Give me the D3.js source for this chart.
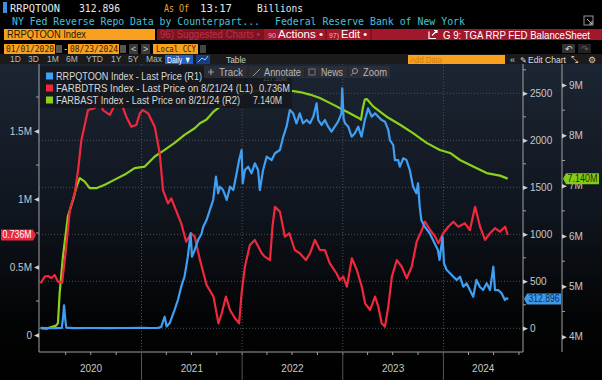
<!DOCTYPE html>
<html><head><meta charset="utf-8">
<script src="https://cdn.jsdelivr.net/npm/d3@7"></script>
<style>html,body{margin:0;padding:0;background:#000;overflow:hidden}</style>
</head><body><svg id="c" width="602" height="380"></svg>
<script>
// ---------- DATA ----------
const rrpDates = ["2020-01-01","2020-01-20","2020-02-10","2020-03-01","2020-03-18","2020-03-23","2020-03-26","2020-03-30","2020-04-03","2020-05-01","2020-07-01","2020-09-01","2020-11-01","2021-01-04","2021-02-01","2021-03-01","2021-03-13","2021-03-26","2021-04-02","2021-04-14","2021-05-01","2021-05-13","2021-05-25","2021-06-06","2021-06-18","2021-06-28","2021-07-03","2021-07-13","2021-07-25","2021-08-06","2021-08-13","2021-08-25","2021-09-06","2021-09-18","2021-09-28","2021-10-06","2021-10-12","2021-10-24","2021-11-06","2021-11-18","2021-11-30","2021-12-12","2021-12-21","2021-12-30","2022-01-03","2022-01-11","2022-01-23","2022-02-04","2022-02-16","2022-02-28","2022-03-06","2022-03-18","2022-03-31","2022-04-18","2022-04-30","2022-05-18","2022-05-30","2022-06-11","2022-06-23","2022-07-05","2022-07-17","2022-07-29","2022-08-10","2022-08-23","2022-09-04","2022-09-16","2022-09-28","2022-10-04","2022-10-16","2022-10-28","2022-11-09","2022-11-21","2022-12-03","2022-12-15","2022-12-27","2022-12-30","2023-01-04","2023-01-09","2023-01-21","2023-02-02","2023-02-14","2023-02-26","2023-03-10","2023-03-22","2023-04-03","2023-04-16","2023-04-28","2023-05-10","2023-05-22","2023-06-03","2023-06-15","2023-06-21","2023-07-03","2023-07-09","2023-07-21","2023-07-27","2023-08-08","2023-08-20","2023-09-01","2023-09-13","2023-09-25","2023-10-01","2023-10-07","2023-10-13","2023-10-25","2023-11-12","2023-11-30","2023-12-12","2023-12-18","2023-12-29","2024-01-03","2024-01-13","2024-01-25","2024-02-06","2024-02-18","2024-03-01","2024-03-13","2024-03-25","2024-04-06","2024-04-18","2024-04-30","2024-05-12","2024-05-24","2024-06-06","2024-06-18","2024-06-30","2024-07-06","2024-07-18","2024-07-30","2024-08-11","2024-08-17","2024-08-23"];
const rrpValues = [4,2,3,2,5,130,245,110,8,2,3,1,3,4,3,5,12,123,20,60,195,301,443,549,762,1011,762,833,939,1000,1081,1152,1259,1365,1613,1436,1506,1471,1365,1506,1471,1649,1790,1897,1543,1684,1719,1649,1755,1684,1471,1684,1826,1790,1862,1897,2038,2145,2322,2287,2181,2287,2181,2216,2181,2251,2394,2216,2163,2216,2145,2092,2145,2198,2287,2553,2230,2181,2145,2038,2074,2145,2038,2216,2340,2251,2287,2251,2216,2198,2110,2003,1950,1790,1790,1719,1808,1790,1684,1506,1436,1543,1294,1152,1081,1011,904,833,727,974,691,620,585,549,514,549,443,479,407,336,514,443,407,479,407,655,407,407,372,301,319,312.896];

const tgaDates = ["2020-01-01","2020-01-16","2020-01-28","2020-02-09","2020-02-21","2020-03-04","2020-03-19","2020-04-03","2020-04-16","2020-05-04","2020-05-16","2020-05-28","2020-06-21","2020-07-15","2020-07-27","2020-08-14","2020-09-08","2020-09-26","2020-10-20","2020-11-07","2020-11-25","2020-12-13","2020-12-26","2021-01-07","2021-01-25","2021-02-18","2021-03-08","2021-03-20","2021-04-07","2021-04-19","2021-05-01","2021-05-25","2021-06-12","2021-06-30","2021-07-13","2021-08-01","2021-08-25","2021-09-19","2021-10-07","2021-10-19","2021-11-03","2021-11-18","2021-12-06","2021-12-21","2021-12-30","2022-01-11","2022-01-29","2022-02-16","2022-03-13","2022-03-24","2022-04-12","2022-04-21","2022-04-30","2022-05-18","2022-06-05","2022-06-21","2022-07-11","2022-07-29","2022-08-20","2022-09-04","2022-09-22","2022-10-10","2022-10-28","2022-11-15","2022-12-09","2022-12-21","2023-01-03","2023-01-16","2023-02-03","2023-02-21","2023-03-11","2023-03-23","2023-04-10","2023-04-28","2023-05-10","2023-05-22","2023-06-03","2023-06-15","2023-06-28","2023-07-16","2023-08-03","2023-08-21","2023-09-08","2023-09-26","2023-10-15","2023-10-26","2023-11-14","2023-12-02","2023-12-14","2023-12-31","2024-01-19","2024-02-06","2024-02-24","2024-03-19","2024-04-06","2024-04-25","2024-05-13","2024-05-31","2024-06-18","2024-07-06","2024-07-24","2024-08-12","2024-08-21"];
const tgaValues = [0.380,0.429,0.434,0.419,0.441,0.392,0.385,0.649,0.919,1.044,1.213,1.434,1.654,1.667,1.789,1.654,1.618,1.691,1.704,1.605,1.532,1.544,1.630,1.654,1.630,1.532,1.336,1.066,0.968,1.005,0.943,0.821,0.686,0.748,0.723,0.551,0.368,0.282,0.086,0.160,0.282,0.184,0.123,0.086,0.307,0.502,0.662,0.699,0.601,0.576,0.551,0.796,0.943,0.907,0.723,0.748,0.625,0.601,0.551,0.601,0.699,0.625,0.625,0.527,0.454,0.404,0.429,0.355,0.564,0.478,0.355,0.233,0.184,0.282,0.208,0.086,0.061,0.208,0.429,0.551,0.502,0.417,0.502,0.686,0.772,0.833,0.772,0.723,0.674,0.748,0.796,0.833,0.796,0.821,0.772,0.943,0.796,0.699,0.748,0.785,0.760,0.796,0.736];

const fedDates = ["2020-01-01","2020-01-22","2020-02-09","2020-02-26","2020-03-04","2020-03-10","2020-03-22","2020-04-09","2020-04-28","2020-05-10","2020-05-22","2020-06-09","2020-06-27","2020-07-21","2020-08-21","2020-09-26","2020-11-01","2020-12-07","2021-01-13","2021-02-18","2021-03-26","2021-05-01","2021-06-06","2021-07-13","2021-08-01","2021-08-24","2021-09-19","2021-11-06","2021-12-24","2022-02-10","2022-03-31","2022-05-18","2022-06-23","2022-07-29","2022-09-04","2022-10-10","2022-11-27","2023-01-16","2023-03-01","2023-03-08","2023-03-15","2023-03-22","2023-03-29","2023-04-22","2023-06-09","2023-07-28","2023-09-14","2023-11-01","2023-12-19","2024-01-25","2024-03-01","2024-04-18","2024-06-06","2024-07-24","2024-08-21"];
const fedValues = [4.17,4.16,4.19,4.22,4.27,4.86,5.59,6.39,6.72,6.98,7.15,7.08,6.95,6.95,7.02,7.12,7.22,7.35,7.38,7.58,7.71,7.85,8.01,8.14,8.24,8.31,8.47,8.67,8.81,8.87,8.91,8.91,8.89,8.86,8.81,8.74,8.61,8.47,8.34,8.31,8.55,8.71,8.72,8.57,8.37,8.21,8.04,7.85,7.71,7.65,7.51,7.38,7.25,7.20,7.14];

const leftTicks = [0, 0.5, 1, 1.5];
const leftTickLabels = ["0", "0.5M", "1M", "1.5M"];
const r1Ticks = [0, 500, 1000, 1500, 2000, 2500];
const r2Ticks = [4, 5, 6, 7, 8, 9];
const r2TickLabels = ["4M", "5M", "6M", "7M", "8M", "9M"];
const yearLabels = ["2020", "2021", "2022", "2023", "2024"];

// ---------- SETUP ----------
const svg = d3.select('#c');
const parse = d3.timeParse('%Y-%m-%d');
const SANS = 'Liberation Sans, Arial, sans-serif';
const MONO = 'DejaVu Sans Mono, Liberation Mono, monospace';

function T(g, x, y, s, o = {}) {
  const t = g.append('text').attr('x', x).attr('y', y).text(s)
    .attr('font-family', o.ff || SANS).attr('font-size', o.fs || 10)
    .attr('fill', o.fill || '#ddd');
  if (o.anchor) t.attr('text-anchor', o.anchor);
  if (o.w) t.attr('textLength', o.w).attr('lengthAdjust', 'spacingAndGlyphs');
  if (o.fw) t.attr('font-weight', o.fw);
  if (o.op) t.attr('opacity', o.op);
  return t;
}
function R(g, x, y, w, h, fill, o = {}) {
  const r = g.append('rect').attr('x', x).attr('y', y).attr('width', w).attr('height', h).attr('fill', fill);
  if (o.op) r.attr('opacity', o.op);
  if (o.stroke) r.attr('stroke', o.stroke).attr('stroke-width', o.sw || 1);
  return r;
}

const defs = svg.append('defs');
const gr = defs.append('linearGradient').attr('id', 'bg').attr('x1', 0).attr('y1', 0).attr('x2', 0).attr('y2', 1);
gr.append('stop').attr('offset', '0%').attr('stop-color', '#1c2533');
gr.append('stop').attr('offset', '45%').attr('stop-color', '#10161f');
gr.append('stop').attr('offset', '80%').attr('stop-color', '#030405');
gr.append('stop').attr('offset', '100%').attr('stop-color', '#000');
defs.append('clipPath').attr('id', 'plot').append('rect').attr('x', 39).attr('y', 64).attr('width', 484).attr('height', 288);

R(svg, 0, 0, 602, 380, '#000');
R(svg, 0, 64, 602, 316, 'url(#bg)');

// ---------- HEADER ----------
const H = svg.append('g');
R(H, 3, 2, 4, 11, '#3d8fe6');
T(H, 10, 12, 'RRPQTOON', { ff: MONO, fs: 11, w: 50, fill: '#e8e8e8' });
T(H, 79, 12, '312.896', { ff: MONO, fs: 11, w: 41, fill: '#e8e8e8' });
T(H, 164, 12, 'As Of', { ff: MONO, fs: 11, w: 25, fill: '#f0a030' });
T(H, 200, 12, '13:17', { ff: MONO, fs: 11, w: 32, fill: '#e8e8e8' });
T(H, 257, 12, 'Billions', { ff: MONO, fs: 11, w: 46, fill: '#e8e8e8' });
T(H, 12, 25, 'NY Fed Reverse Repo Data by Counterpart...', { ff: MONO, fs: 10.5, w: 248, fill: '#46c0dc' });
T(H, 275, 25, 'Federal Reserve Bank of New York', { ff: MONO, fs: 10.5, w: 190, fill: '#46c0dc' });
R(H, 584, 16, 9, 9, 'none', { stroke: '#999', sw: 1 });
H.append('path').attr('d', 'M587,19L592,24M589,24L592,24L592,21').attr('stroke', '#bbb').attr('fill', 'none');

// row 3
R(H, 4, 29, 151, 11, '#f7a11e');
T(H, 7, 38, 'RRPQTOON Index', { fs: 11, w: 79, fill: '#2a1a00' });
R(H, 157, 29, 445, 11, '#a1172c');
R(H, 157, 29, 107, 11, '#7e1222');
T(H, 160, 38, '96) Suggested Charts •', { fs: 10, w: 100, fill: '#b83242' });
T(H, 268, 38, '90', { fs: 8, w: 8, fill: '#e8b0b8' });
T(H, 278, 38, 'Actions •', { fs: 10.5, w: 45, fill: '#fff' });
H.append('line').attr('x1', 326).attr('x2', 326).attr('y1', 29).attr('y2', 40).attr('stroke', '#6a0d1a');
T(H, 329, 38, '97)', { fs: 8, w: 10, fill: '#e8b0b8' });
T(H, 341, 38, 'Edit •', { fs: 10.5, w: 26, fill: '#fff' });
H.append('line').attr('x1', 371).attr('x2', 371).attr('y1', 29).attr('y2', 40).attr('stroke', '#6a0d1a');
H.append('path').attr('d', 'M429,31.5L429,38.5L436,38.5M432,35.5L437,30.5M434,30.5L437,30.5L437,33').attr('stroke', '#fff').attr('fill', 'none').attr('stroke-width', 1.2);
T(H, 443, 38.5, 'G 9: TGA RRP FED BalanceSheet', { fs: 10.5, w: 147, fill: '#fff' });

// row 4
R(H, 4, 44, 51, 10, '#f7a11e');
T(H, 6, 52, '01/01/2020', { ff: MONO, fs: 9.5, w: 48, fill: '#3a2000' });
R(H, 56, 45, 6, 8, '#555');
T(H, 64, 52, '-', { fs: 10, fill: '#ccc' });
R(H, 68, 44, 51, 10, '#f7a11e');
T(H, 70, 52, '08/23/2024', { ff: MONO, fs: 9.5, w: 48, fill: '#3a2000' });
R(H, 120, 45, 6, 8, '#555');
R(H, 129, 44, 9, 10, '#3a3a3a'); T(H, 131, 52, '<', { fs: 9, fill: '#ccc' });
R(H, 141, 44, 9, 10, '#3a3a3a'); T(H, 143, 52, '>', { fs: 9, fill: '#ccc' });
R(H, 153, 44, 45, 10, '#f7a11e');
T(H, 156, 52, 'Local CCY', { ff: MONO, fs: 9.5, w: 40, fill: '#3a2000' });
R(H, 200, 45, 6, 8, '#444');
R(H, 562, 44, 13, 9, '#333'); T(H, 565, 52, '↶', { fs: 9, fill: '#ddd' });
R(H, 578, 44, 13, 9, '#222'); T(H, 581, 52, '↷', { fs: 9, fill: '#666' });

// row 5
R(H, 0, 54, 602, 10, '#1b1b1b');
const periods = [['1D', 10], ['3D', 28], ['1M', 47], ['6M', 66], ['YTD', 86], ['1Y', 111], ['5Y', 128], ['Max', 146]];
periods.forEach(p => T(H, p[1], 62, p[0], { fs: 8.5, fill: '#b8b8b8' }));
R(H, 165, 55, 28, 9, '#1f5fc2');
T(H, 167, 62.5, 'Daily ▼', { fs: 9, w: 24, fill: '#fff' });
R(H, 196, 55, 14, 9, '#173e7e');
H.append('path').attr('d', 'M198,62L202,58L205,60L208,56').attr('stroke', '#9cc4ff').attr('fill', 'none');
T(H, 226, 62.5, 'Table', { fs: 9, w: 20, fill: '#ccc' });
R(H, 408, 55, 97, 9, '#f7a11e');
T(H, 410, 62.5, 'Add Data', { fs: 9, w: 32, fill: '#d27f10' });
T(H, 510, 62.5, '«', { fs: 9, fill: '#ccc' });
T(H, 520, 62.5, '✎', { fs: 8, fill: '#ddd' });
T(H, 528, 62.5, 'Edit Chart', { fs: 9, w: 38, fill: '#ddd' });
T(H, 571, 62.5, '⤡', { fs: 9, fill: '#ccc' });
T(H, 588, 62.5, '⚙', { fs: 9, fill: '#ccc' });

// ---------- SCALES ----------
const x = d3.scaleTime().domain([parse('2020-01-01'), parse('2024-10-20')]).range([40.6, 524.2]);
const yL = d3.scaleLinear().domain([0, 1.5]).range([335, 131]);
const yR1 = d3.scaleLinear().domain([0, 2500]).range([328.3, 93.3]);
const yR2 = d3.scaleLinear().domain([4, 9]).range([336.7, 85]);

// ---------- GRID ----------
const grid = svg.append('g');
grid.selectAll('.hg').data(r1Ticks).enter().append('line')
  .attr('x1', 39).attr('x2', 523).attr('y1', d => yR1(d)).attr('y2', d => yR1(d))
  .attr('stroke', '#4a5058').attr('stroke-dasharray', '1,2');
const years = d3.timeYear.range(parse('2021-01-01'), parse('2024-06-01'));
grid.selectAll('.vg').data(years).enter().append('line')
  .attr('x1', d => x(d)).attr('x2', d => x(d)).attr('y1', 64).attr('y2', 352)
  .attr('stroke', '#4a5058').attr('stroke-dasharray', '1,2');

// ---------- AXES ----------
const AX = '#a0a0a0';
const ax = svg.append('g');
ax.append('line').attr('x1', 39).attr('x2', 39).attr('y1', 64).attr('y2', 352).attr('stroke', AX);
ax.append('line').attr('x1', 523).attr('x2', 523).attr('y1', 64).attr('y2', 352).attr('stroke', AX);
ax.append('line').attr('x1', 562).attr('x2', 562).attr('y1', 64).attr('y2', 352).attr('stroke', AX);
ax.append('line').attr('x1', 39).attr('x2', 523).attr('y1', 352).attr('y2', 352).attr('stroke', AX);

const gL = svg.append('g').attr('transform', 'translate(39,0)')
  .call(d3.axisLeft(yL).tickValues(leftTicks).tickFormat((d, i) => leftTickLabels[i]).tickSize(0).tickPadding(7));
gL.select('.domain').remove();
gL.selectAll('text').attr('fill', '#c8c8c8').attr('font-family', SANS).attr('font-size', 10);
gL.selectAll('.tick').append('path').attr('d', 'M-5,0L0,-2.3L0,2.3Z').attr('fill', '#cfcfcf');
ax.selectAll('.lm').data([0.25, 0.75, 1.25, 1.75]).enter().append('line')
  .attr('x1', 36).attr('x2', 39).attr('y1', d => yL(d)).attr('y2', d => yL(d)).attr('stroke', AX);

const gR1 = svg.append('g').attr('transform', 'translate(523,0)')
  .call(d3.axisRight(yR1).tickValues(r1Ticks).tickFormat(d3.format('d')).tickSize(0).tickPadding(7));
gR1.select('.domain').remove();
gR1.selectAll('text').attr('fill', '#c8c8c8').attr('font-family', SANS).attr('font-size', 10);
gR1.selectAll('.tick').append('path').attr('d', 'M5,0L0,-2.3L0,2.3Z').attr('fill', '#cfcfcf');
ax.selectAll('.r1m').data([250, 750, 1250, 1750, 2250, 2750]).enter().append('line')
  .attr('x1', 523).attr('x2', 526).attr('y1', d => yR1(d)).attr('y2', d => yR1(d)).attr('stroke', AX);

const gR2 = svg.append('g').attr('transform', 'translate(562,0)')
  .call(d3.axisRight(yR2).tickValues(r2Ticks).tickFormat((d, i) => r2TickLabels[i]).tickSize(0).tickPadding(7));
gR2.select('.domain').remove();
gR2.selectAll('text').attr('fill', '#c8c8c8').attr('font-family', SANS).attr('font-size', 10);
gR2.selectAll('.tick').append('path').attr('d', 'M5,0L0,-2.3L0,2.3Z').attr('fill', '#cfcfcf');
ax.selectAll('.r2m').data([4.5, 5.5, 6.5, 7.5, 8.5]).enter().append('line')
  .attr('x1', 562).attr('x2', 565).attr('y1', d => yR2(d)).attr('y2', d => yR2(d)).attr('stroke', AX);

const quarters = d3.timeMonth.every(3).range(parse('2020-04-01'), parse('2024-10-02'));
ax.selectAll('.q').data(quarters).enter().append('line')
  .attr('x1', d => x(d)).attr('x2', d => x(d)).attr('y1', 352).attr('y2', 355).attr('stroke', AX);
ax.selectAll('.ys').data(years).enter().append('line')
  .attr('x1', d => x(d)).attr('x2', d => x(d)).attr('y1', 352).attr('y2', 380).attr('stroke', '#555');
const yearCenters = yearLabels.map((y, i) => {
  const a = x(parse(y + '-01-01'));
  const b = i < yearLabels.length - 1 ? x(parse((+y + 1) + '-01-01')) : 523;
  return (a + b) / 2;
});
yearLabels.forEach((y, i) => T(ax, yearCenters[i], 372, y, { fs: 10, anchor: 'middle', fill: '#c8c8c8' }));

// ---------- LINES ----------
const plot = svg.append('g').attr('clip-path', 'url(#plot)');
const fedData = fedDates.map((d, i) => [parse(d), fedValues[i]]);
const tgaData = tgaDates.map((d, i) => [parse(d), tgaValues[i]]);
const rrpData = rrpDates.map((d, i) => [parse(d), rrpValues[i]]);
plot.append('path').datum(fedData).attr('fill', 'none').attr('stroke', '#8cd21c').attr('stroke-width', 2.2)
  .attr('stroke-linejoin', 'round').attr('d', d3.line().x(d => x(d[0])).y(d => yR2(d[1])));
plot.append('path').datum(tgaData).attr('fill', 'none').attr('stroke', '#f0283e').attr('stroke-width', 2.2)
  .attr('stroke-linejoin', 'round').attr('d', d3.line().x(d => x(d[0])).y(d => yL(d[1])));
plot.append('path').datum(rrpData).attr('fill', 'none').attr('stroke', '#3f9ff2').attr('stroke-width', 2.2)
  .attr('stroke-linejoin', 'round').attr('d', d3.line().x(d => x(d[0])).y(d => yR1(d[1])));

// ---------- END TAGS ----------
function tag(xl, xr, yc, fill, txt, tfill, pointLeft) {
  const h = 5.5;
  const p = pointLeft
    ? `M${xl},${yc}L${xl + 3},${yc - h}L${xr},${yc - h}L${xr},${yc + h}L${xl + 3},${yc + h}Z`
    : `M${xl},${yc - h}L${xr - 3},${yc - h}L${xr},${yc}L${xr - 3},${yc + h}L${xl},${yc + h}Z`;
  svg.append('path').attr('d', p).attr('fill', fill);
  T(svg, (xl + xr) / 2 + (pointLeft ? 1.5 : -1.5), yc + 3.5, txt, { fs: 10, anchor: 'middle', fill: tfill, w: xr - xl - 6 });
}
tag(524, 561, yR1(rrpValues[rrpValues.length - 1]), '#3d9be9', '312.896', '#0d2d5c', true);
tag(563, 599, yR2(fedValues[fedValues.length - 1]), '#84cc16', '7.140M', '#1c3800', true);
tag(1, 36, yL(tgaValues[tgaValues.length - 1]), '#e8283c', '0.736M', '#fff', false);

// ---------- LEGEND ----------
const lg = svg.append('g');
R(lg, 40, 66, 252, 42, '#15181d', { op: 0.92 });
T(lg, 263, 80.5, '117.36M', { fs: 6.5, w: 24, fill: '#6a6a6a', op: 0.7 });
R(lg, 46, 72.5, 7, 7, '#3f9ff2');
R(lg, 46, 84.5, 7, 7, '#f0283e');
R(lg, 46, 96.5, 7, 7, '#8cd21c');
T(lg, 56, 79.5, 'RRPQTOON Index - Last Price (R1)', { fs: 10.5, w: 146, fill: '#d8d8d8' });
T(lg, 56, 92, 'FARBDTRS Index - Last Price on 8/21/24 (L1)', { fs: 10.5, w: 197, fill: '#d8d8d8' });
T(lg, 259, 92, '0.736M', { fs: 10.5, w: 31, fill: '#d8d8d8' });
T(lg, 56, 104, 'FARBAST Index - Last Price on 8/21/24 (R2)', { fs: 10.5, w: 184, fill: '#d8d8d8' });
T(lg, 253, 104, '7.140M', { fs: 10.5, w: 29, fill: '#d8d8d8' });

// ---------- TOOLBAR ----------
const tb = svg.append('g');
R(tb, 204, 66, 186, 12, '#2c3037', { op: 0.92 });
[248, 305, 348].forEach(v => tb.append('line').attr('x1', v).attr('x2', v).attr('y1', 67).attr('y2', 77).attr('stroke', '#1c1f24'));
tb.append('path').attr('d', 'M208,72L214,72M211,69L211,75').attr('stroke', '#9a9a9a').attr('stroke-width', 1.2);
T(tb, 219, 75.5, 'Track', { fs: 10, w: 24, fill: '#b8b8b8' });
tb.append('path').attr('d', 'M253,76L260,69').attr('stroke', '#999');
T(tb, 264, 75.5, 'Annotate', { fs: 10, w: 37, fill: '#b8b8b8' });
R(tb, 309, 69, 6, 6, 'none', { stroke: '#888', sw: 0.8 });
T(tb, 321, 75.5, 'News', { fs: 10, w: 22, fill: '#b8b8b8' });
tb.append('circle').attr('cx', 355).attr('cy', 71).attr('r', 2.5).attr('fill', 'none').attr('stroke', '#999');
tb.append('line').attr('x1', 353).attr('y1', 73).attr('x2', 351).attr('y2', 75.5).attr('stroke', '#999');
T(tb, 363, 75.5, 'Zoom', { fs: 10, w: 24, fill: '#b8b8b8' });
</script></body></html>
